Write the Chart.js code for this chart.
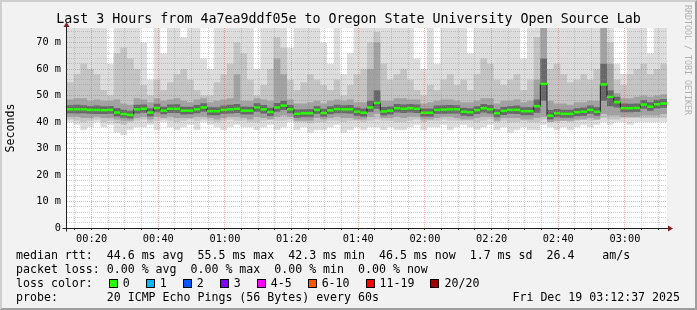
<!DOCTYPE html>
<html>
<head>
<meta charset="utf-8">
<script src="https://cdn.jsdelivr.net/npm/chart.js@4.4.1/dist/chart.umd.min.js"></script>
<style>
  html, body { margin: 0; padding: 0; background: #f2f2f2; }
  #wrap { position: relative; width: 697px; height: 310px; overflow: hidden;
          font-family: 'DejaVu Sans Mono', monospace; color: #000; }
  canvas { position: absolute; left: 0; top: 0; }
  .frame { position: absolute; left: 0; top: 0; width: 697px; height: 310px; box-sizing: border-box;
           border-style: solid; border-width: 2px; border-color: #cfcfcf #9e9e9e #9e9e9e #cfcfcf; pointer-events: none; }
  .title { position: absolute; left: 0; top: 11px; width: 697px; text-align: center; font-size: 13.3px;
           line-height: 16px; white-space: pre; }
  .line { position: absolute; left: 16px; font-size: 11.6px; line-height: 14px; white-space: pre; }
  .stamp { position: absolute; right: 17px; font-size: 11.6px; line-height: 14px; white-space: pre; }
  .box { display: inline-block; width: 7px; height: 7px; border: 1px solid #000; vertical-align: -1px;
         margin-left: 2px; margin-right: 5px; }
  .item { margin-right: 14px; }
  .mark { position: absolute; left: 683px; top: 5px; writing-mode: vertical-rl; font-size: 8.3px;
          line-height: 10px; color: #b0b0b0; white-space: pre; }
</style>
</head>
<body>
<div id="wrap">
  <canvas id="graph" width="697" height="310"></canvas>
  <div class="title" id="titre"></div>
  <div class="mark">RRDTOOL / TOBI OETIKER</div>
  <div class="line" style="top:248px" id="rttLine"></div>
  <div class="line" style="top:262px" id="lossLine"></div>
  <div class="line" style="top:276px" id="colorLine"></div>
  <div class="line" style="top:290px" id="probeLine"></div>
  <div class="stamp" style="top:290px" id="stamp"></div>
  <div class="frame"></div>
</div>
<script>
// --- données (ms), un échantillon toutes les 2 minutes ---
const startMin = 12 + 37 / 60;   // 00:12:37
const stepMin = 2;
const spanMin = 180;

const medianRtt = [
  44.8, 44.8, 44.8, 44.6, 44.6, 44.5, 44.6, 43.6, 43.0, 42.7,
  44.8, 45.0, 43.6, 45.3, 44.3, 45.0, 45.0, 44.3, 44.3, 44.8,
  45.5, 44.1, 44.1, 44.6, 44.8, 45.0, 44.3, 44.3, 45.5, 44.8,
  43.8, 45.5, 46.2, 44.8, 43.1, 43.3, 43.3, 44.6, 43.4, 44.4,
  44.9, 44.8, 44.8, 43.9, 43.5, 45.5, 47.2, 44.0, 44.3, 45.2,
  45.0, 45.2, 45.0, 43.5, 43.5, 44.6, 44.7, 44.8, 44.8, 43.9,
  43.7, 44.5, 45.2, 44.8, 43.3, 44.2, 44.6, 44.6, 44.1, 44.1,
  46.0, 54.4, 42.4, 43.3, 43.1, 43.1, 43.7, 43.9, 44.6, 43.9,
  54.2, 49.5, 47.5, 45.2, 45.2, 45.3, 46.6, 45.8, 46.7, 47.0
];

// fumée : enveloppe extérieure (la plus claire)
const smokeOuterLo = [
  40, 39, 37, 38, 40, 38, 39, 36, 35, 37,
  38, 38, 39, 37, 40, 38, 37, 38, 39, 37,
  40, 39, 38, 37, 38, 39, 38, 38, 37, 38,
  39, 37, 38, 40, 37, 38, 36, 37, 37, 38,
  39, 36, 37, 38, 37, 38, 38, 37, 38, 37,
  37, 38, 39, 37, 38, 38, 39, 37, 38, 39,
  38, 37, 38, 39, 37, 38, 36, 37, 38, 37,
  37, 39, 38, 37, 38, 37, 38, 39, 38, 39,
  40, 39, 40, 40, 39, 40, 40, 40, 40, 40
];
const smokeOuterHi = [
  76, 76, 76, 76, 76, 76, 62, 76, 76, 76,
  76, 70, 56, 76, 66, 76, 76, 72, 76, 76,
  64, 60, 76, 76, 76, 76, 76, 76, 60, 76,
  76, 76, 76, 68, 76, 76, 76, 76, 70, 62,
  76, 58, 66, 76, 76, 76, 76, 76, 76, 76,
  76, 76, 64, 60, 76, 62, 76, 76, 76, 76,
  66, 76, 76, 76, 76, 76, 76, 76, 64, 76,
  76, 76, 76, 76, 76, 76, 76, 76, 76, 76,
  76, 76, 62, 58, 76, 76, 76, 66, 76, 76
];
// fumée : bande moyenne
const smokeMidLo = [
  41, 40.5, 40, 40.5, 41, 40, 40.5, 39.5, 39, 40,
  40.5, 41, 40, 40.5, 41, 40.5, 40, 40.5, 41, 40.5,
  41, 40.5, 40, 40.5, 41, 40.5, 40.5, 40, 40, 40.5,
  41, 40.5, 40.5, 41, 40, 40, 39.5, 40, 40, 40.5,
  40.5, 40, 40.5, 40.5, 40, 40.5, 41, 40.5, 40.5, 40,
  40, 40.5, 41, 40, 40.5, 40.5, 41, 40.5, 40.5, 40.5,
  40.5, 40, 40.5, 41, 40, 40.5, 40, 40, 40.5, 40,
  40, 41, 40, 40, 40.5, 40, 40.5, 41, 40.5, 41,
  41.5, 41, 41, 41.5, 41.5, 41.5, 41.5, 41.5, 41.5, 41.5
];
const smokeMidHi = [
  55, 58, 62, 60, 58, 52, 50, 66, 68, 64,
  60, 54, 50, 56, 52, 55, 58, 60, 56, 52,
  50, 50, 55, 58, 62, 70, 66, 56, 50, 54,
  60, 72, 68, 56, 52, 55, 58, 56, 54, 52,
  56, 50, 54, 58, 60, 70, 74, 62, 56, 58,
  60, 56, 52, 50, 54, 52, 56, 58, 54, 56,
  52, 58, 64, 62, 56, 54, 56, 58, 52, 56,
  72, 76, 60, 62, 58, 55, 56, 58, 56, 60,
  76, 70, 56, 54, 58, 60, 62, 58, 60, 62
];
// fumée : bande sombre
const smokeInnerLo = [
  42, 42, 41.5, 41.5, 42, 41.5, 41.5, 41, 40.5, 40.5,
  41.5, 42, 41, 42, 41.5, 42, 41.5, 41.5, 41.5, 42,
  42, 41.5, 41, 41.5, 42, 42, 41.5, 41, 42, 41.5,
  41, 42, 42.5, 42, 40.5, 40.5, 40.5, 41.5, 41, 41.5,
  42, 41.5, 41.5, 41, 41, 42, 43, 41.5, 41.5, 42,
  41.5, 42, 42, 41, 41, 41.5, 42, 42, 41.5, 41,
  41, 41.5, 42, 42, 40.5, 41.5, 41.5, 41.5, 41, 41,
  41.5, 42, 40, 40.5, 40.5, 40.5, 41, 41, 41.5, 41,
  43, 42.5, 42.5, 42, 42, 42, 42.5, 42.5, 42.5, 43
];
const smokeInnerHi = [
  48.5, 49, 49, 48, 48.5, 48, 48, 48.5, 47, 46.5,
  49, 48.5, 47.5, 49, 48, 48.5, 49, 48, 47.5, 48.5,
  49, 47.5, 48, 48.5, 49, 58, 48, 48, 49, 48.5,
  48, 64, 58, 48.5, 47, 47, 47.5, 48, 47, 48,
  48.5, 48, 48.5, 47.5, 47.5, 60, 70, 48, 48, 49,
  49, 48.5, 48.5, 47, 47.5, 48, 48.5, 48.5, 48, 47.5,
  47.5, 48, 49, 49, 47, 48, 48, 48.5, 47.5, 48,
  56, 76, 48, 47, 47, 46.5, 47.5, 47.5, 48, 48,
  76, 62, 51, 49, 49, 49.5, 50, 49.5, 50, 50.5
];
// fumée : coeur autour de la médiane
const smokeCoreLo = [
  43.3, 43.2, 43.3, 43.1, 43, 43, 43.1, 42.1, 41.6, 41.3,
  43.2, 43.5, 42.1, 43.7, 42.9, 43.4, 43.4, 42.8, 42.9, 43.3,
  43.9, 42.6, 42.6, 43.1, 43.2, 43.4, 42.8, 42.8, 43.9, 43.2,
  42.3, 43.9, 44.5, 43.3, 41.6, 41.8, 41.8, 43.1, 41.9, 42.9,
  43.3, 43.3, 43.2, 42.4, 42, 43.8, 45, 42.5, 42.8, 43.6,
  43.4, 43.6, 43.4, 42, 42, 43.1, 43.1, 43.2, 43.2, 42.4,
  42.2, 43, 43.6, 43.2, 41.8, 42.7, 43.1, 43, 42.6, 42.6,
  43.5, 48, 41, 41.8, 41.6, 41.6, 42.2, 42.4, 43.1, 42.4,
  48, 46, 45.5, 43.7, 43.7, 43.8, 45, 44.3, 45.1, 45.4
];
const smokeCoreHi = [
  46.3, 46.5, 46.3, 46.1, 46.2, 46, 46.1, 45.3, 44.6, 44.3,
  46.5, 46.6, 45.2, 46.9, 45.8, 46.6, 46.7, 45.8, 45.8, 46.4,
  47.1, 45.6, 45.6, 46.2, 46.5, 46.8, 45.9, 45.8, 47.1, 46.4,
  45.4, 47.2, 48, 46.4, 44.7, 44.8, 44.9, 46.1, 45, 46,
  46.5, 46.3, 46.4, 45.5, 45.1, 48, 52, 45.7, 45.9, 46.8,
  46.6, 46.8, 46.6, 45.1, 45.1, 46.2, 46.3, 46.4, 46.3, 45.4,
  45.2, 46, 46.8, 46.4, 44.8, 45.7, 46.1, 46.2, 45.6, 45.6,
  48.5, 64, 44.5, 44.9, 44.6, 44.6, 45.2, 45.5, 46.2, 45.6,
  62, 52, 49.5, 47, 46.9, 47, 48.3, 47.5, 48.4, 48.7
];

// axes
const timeLabelMinutes = [20, 40, 60, 80, 100, 120, 140, 160, 180];
const timeLabels = ['00:20', '00:40', '01:00', '01:20', '01:40', '02:00', '02:20', '02:40', '03:00'];
const timeGridMinutes = [15, 20, 25, 30, 35, 40, 45, 50, 55, 60, 65, 70, 75, 80, 85, 90, 95, 100, 105, 110,
  115, 120, 125, 130, 135, 140, 145, 150, 155, 160, 165, 170, 175, 180, 185, 190];
const yLabelValues = [0, 10, 20, 30, 40, 50, 60, 70];
const yLabels = ['0', '10 m', '20 m', '30 m', '40 m', '50 m', '60 m', '70 m'];
const yGridValues = [0, 2, 4, 6, 8, 10, 12, 14, 16, 18, 20, 22, 24, 26, 28, 30, 32, 34, 36, 38,
  40, 42, 44, 46, 48, 50, 52, 54, 56, 58, 60, 62, 64, 66, 68, 70, 72, 74];
const yMax = 75.5;

// légende
const lossLabels = ['0', '1', '2', '3', '4-5', '6-10', '11-19', '20/20'];
const lossColors = ['#26ff00', '#00b8ff', '#0059ff', '#7e00ff', '#ff00ff', '#ff5500', '#ff0000', '#a10000'];

const FONT = 'DejaVu Sans Mono';
const GRID_MINOR = 'rgba(143,143,143,0.4)';
const GRID_MAJOR = 'rgba(222,79,79,0.45)';

// --- construction ---
function enMarches(valeurs) {
  const pts = valeurs.map((v, i) => ({ x: startMin + i * stepMin, y: v }));
  pts.push({ x: startMin + valeurs.length * stepMin, y: valeurs[valeurs.length - 1] });
  return pts;
}

function bande(bas, haut, couleur, ordre) {
  const commun = { pointRadius: 0, borderWidth: 0, borderColor: 'transparent', stepped: true, order: ordre };
  return [
    { ...commun, data: enMarches(bas), fill: false },
    { ...commun, data: enMarches(haut), fill: '-1', backgroundColor: couleur }
  ];
}

const datasets = [
  ...bande(smokeOuterLo, smokeOuterHi, '#dddddd', 10),
  ...bande(smokeMidLo, smokeMidHi, '#c4c4c4', 8),
  ...bande(smokeInnerLo, smokeInnerHi, '#a2a2a2', 6),
  ...bande(smokeCoreLo, smokeCoreHi, '#686868', 4),
  { data: enMarches(medianRtt), borderColor: '#202020', borderWidth: 1, pointRadius: 0, fill: false, stepped: true, order: 2 },
  { data: medianRtt.map((v, i) => ({ x: startMin + (i + 0.5) * stepMin, y: v })),
    showLine: false, pointStyle: 'line', pointRadius: stepMin * 600 / spanMin / 2,
    pointBorderWidth: 2.5, pointBorderColor: lossColors[0], pointBackgroundColor: lossColors[0], order: 1 }
];

const fondBlanc = {
  id: 'fondBlanc',
  beforeDraw(chart) {
    const { ctx, chartArea: a } = chart;
    ctx.save();
    ctx.fillStyle = '#ffffff';
    ctx.fillRect(a.left, a.top, a.right - a.left, a.bottom - a.top);
    ctx.restore();
  }
};

// axes noirs et flèches rouges façon rrdtool
const axesFleches = {
  id: 'axesFleches',
  afterDraw(chart) {
    const { ctx, chartArea: a } = chart;
    const x0 = a.left - 0.5, y0 = a.bottom + 0.5;
    ctx.save();
    ctx.strokeStyle = '#1f1f1f';
    ctx.lineWidth = 1;
    ctx.beginPath();
    ctx.moveTo(x0 - 4, y0); ctx.lineTo(a.right + 2, y0);
    ctx.moveTo(x0, y0 + 3); ctx.lineTo(x0, a.top - 2);
    ctx.stroke();
    ctx.fillStyle = '#801f1f';
    ctx.beginPath();
    ctx.moveTo(a.right + 1, y0 - 3); ctx.lineTo(a.right + 6, y0); ctx.lineTo(a.right + 1, y0 + 3);
    ctx.closePath(); ctx.fill();
    ctx.beginPath();
    ctx.moveTo(x0 - 3, a.top - 1); ctx.lineTo(x0, a.top - 6); ctx.lineTo(x0 + 3, a.top - 1);
    ctx.closePath(); ctx.fill();
    ctx.restore();
  }
};

new Chart(document.getElementById('graph').getContext('2d'), {
  type: 'line',
  data: { datasets },
  options: {
    responsive: false,
    animation: false,
    devicePixelRatio: 1,
    events: [],
    layout: { padding: { left: 0, top: 28, right: 30, bottom: 0 } },
    plugins: {
      legend: { display: false },
      tooltip: { enabled: false },
      title: { display: false }
    },
    scales: {
      x: {
        type: 'linear',
        min: startMin,
        max: startMin + spanMin,
        afterBuildTicks: s => { s.ticks = timeGridMinutes.map(v => ({ value: v })); },
        afterFit: s => { s.height = 82; s.paddingLeft = 0; s.paddingRight = 0; },
        ticks: {
          autoSkip: false, maxRotation: 0, minRotation: 0, padding: 3, color: '#000',
          font: { family: FONT, size: 10.3 },
          callback: v => {
            const k = timeLabelMinutes.indexOf(v);
            return k >= 0 ? timeLabels[k] : '';
          }
        },
        grid: {
          z: 1, lineWidth: 1, drawTicks: true, tickLength: 2, tickColor: '#303030',
          borderDash: [1, 1],
          color: c => timeLabelMinutes.includes(c.tick && c.tick.value) ? GRID_MAJOR : GRID_MINOR
        },
        border: { display: false, dash: [1, 1] }
      },
      y: {
        type: 'linear',
        min: 0,
        max: yMax,
        afterBuildTicks: s => { s.ticks = yGridValues.map(v => ({ value: v })); },
        afterFit: s => { s.width = 67; s.paddingTop = 0; s.paddingBottom = 0; },
        ticks: {
          autoSkip: false, padding: 6, color: '#000',
          font: { family: FONT, size: 10.3 },
          callback: v => {
            const k = yLabelValues.indexOf(v);
            return k >= 0 ? yLabels[k] : '';
          }
        },
        grid: {
          z: 1, lineWidth: 1, drawTicks: false,
          borderDash: [1, 1],
          color: c => yLabelValues.includes(c.tick && c.tick.value) ? GRID_MAJOR : GRID_MINOR
        },
        border: { display: false, dash: [1, 1] },
        title: {
          display: true, text: 'Seconds', color: '#000',
          font: { family: FONT, size: 11.6 },
          padding: { top: 4, bottom: 0 }
        }
      }
    }
  },
  plugins: [fondBlanc, axesFleches]
});

// --- textes ---
document.getElementById('titre').textContent =
  'Last 3 Hours from 4a7ea9ddf05e to Oregon State University Open Source Lab';
document.getElementById('rttLine').textContent =
  'median rtt:  44.6 ms avg  55.5 ms max  42.3 ms min  46.5 ms now  1.7 ms sd  26.4    am/s';
document.getElementById('lossLine').textContent =
  'packet loss: 0.00 % avg  0.00 % max  0.00 % min  0.00 % now';
document.getElementById('probeLine').textContent =
  'probe:       20 ICMP Echo Pings (56 Bytes) every 60s';
document.getElementById('stamp').textContent = 'Fri Dec 19 03:12:37 2025';

const ligneCouleurs = document.getElementById('colorLine');
ligneCouleurs.textContent = 'loss color:  ';
lossLabels.forEach((lbl, i) => {
  const item = document.createElement('span');
  item.className = 'item';
  const box = document.createElement('span');
  box.className = 'box';
  box.style.background = lossColors[i];
  item.appendChild(box);
  item.appendChild(document.createTextNode(lbl));
  ligneCouleurs.appendChild(item);
});
</script>
</body>
</html>
